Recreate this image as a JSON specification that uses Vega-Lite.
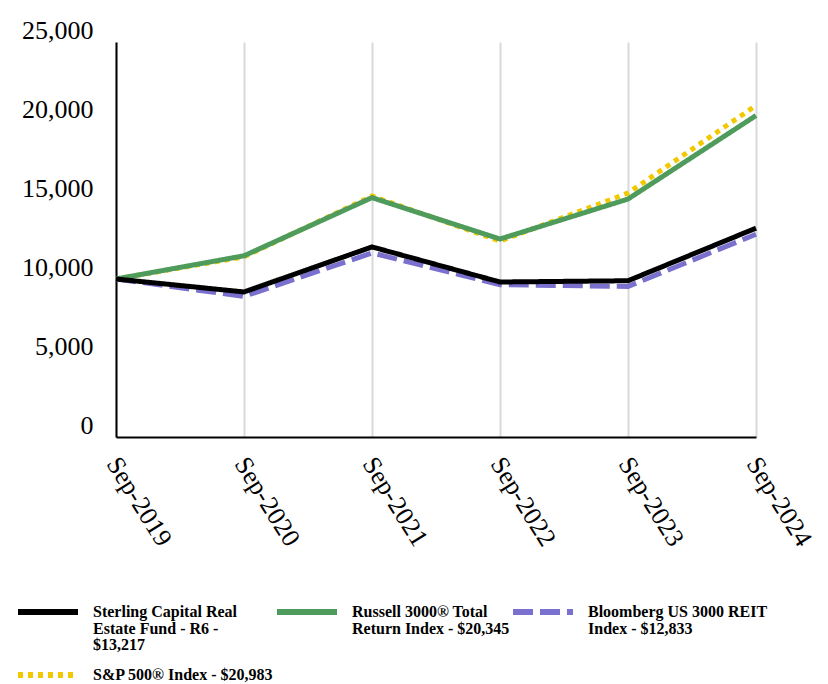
{
  "$schema": "https://vega.github.io/schema/vega-lite/v6.json",
  "width": 640,
  "height": 395,
  "autosize": {"type": "none"},
  "padding": {"left": 116, "top": 42, "right": 72, "bottom": 247},
  "background": "white",
  "config": {"view": {"stroke": null}, "font": "Liberation Serif"},
  "data": {
    "values": [
      {"period": "Sep-2019", "series": "S&P 500® Index - $20,983", "value": 10000},
      {"period": "Sep-2020", "series": "S&P 500® Index - $20,983", "value": 11400},
      {"period": "Sep-2021", "series": "S&P 500® Index - $20,983", "value": 15250},
      {"period": "Sep-2022", "series": "S&P 500® Index - $20,983", "value": 12400},
      {"period": "Sep-2023", "series": "S&P 500® Index - $20,983", "value": 15440},
      {"period": "Sep-2024", "series": "S&P 500® Index - $20,983", "value": 20983},
      {"period": "Sep-2019", "series": "Russell 3000® Total Return Index - $20,345", "value": 10000},
      {"period": "Sep-2020", "series": "Russell 3000® Total Return Index - $20,345", "value": 11470},
      {"period": "Sep-2021", "series": "Russell 3000® Total Return Index - $20,345", "value": 15150},
      {"period": "Sep-2022", "series": "Russell 3000® Total Return Index - $20,345", "value": 12530},
      {"period": "Sep-2023", "series": "Russell 3000® Total Return Index - $20,345", "value": 15060},
      {"period": "Sep-2024", "series": "Russell 3000® Total Return Index - $20,345", "value": 20345},
      {"period": "Sep-2019", "series": "Bloomberg US 3000 REIT Index - $12,833", "value": 10000},
      {"period": "Sep-2020", "series": "Bloomberg US 3000 REIT Index - $12,833", "value": 8900},
      {"period": "Sep-2021", "series": "Bloomberg US 3000 REIT Index - $12,833", "value": 11650},
      {"period": "Sep-2022", "series": "Bloomberg US 3000 REIT Index - $12,833", "value": 9640},
      {"period": "Sep-2023", "series": "Bloomberg US 3000 REIT Index - $12,833", "value": 9530},
      {"period": "Sep-2024", "series": "Bloomberg US 3000 REIT Index - $12,833", "value": 12833},
      {"period": "Sep-2019", "series": "Sterling Capital Real Estate Fund - R6 - $13,217", "value": 10000},
      {"period": "Sep-2020", "series": "Sterling Capital Real Estate Fund - R6 - $13,217", "value": 9180},
      {"period": "Sep-2021", "series": "Sterling Capital Real Estate Fund - R6 - $13,217", "value": 12030},
      {"period": "Sep-2022", "series": "Sterling Capital Real Estate Fund - R6 - $13,217", "value": 9810},
      {"period": "Sep-2023", "series": "Sterling Capital Real Estate Fund - R6 - $13,217", "value": 9890},
      {"period": "Sep-2024", "series": "Sterling Capital Real Estate Fund - R6 - $13,217", "value": 13217}
    ]
  },
  "mark": {"type": "line", "strokeWidth": 5, "strokeCap": "butt", "strokeJoin": "miter"},
  "encoding": {
    "x": {
      "field": "period",
      "type": "ordinal",
      "sort": null,
      "scale": {"type": "point", "padding": 0},
      "axis": {
        "title": null,
        "labelAngle": 58,
        "labelAlign": "left",
        "labelBaseline": "middle",
        "labelFont": "Liberation Serif",
        "labelFontSize": 26,
        "labelColor": "black",
        "labelPadding": 22,
        "labelOffset": -4,
        "ticks": false,
        "domainColor": "black",
        "domainWidth": 2,
        "grid": true,
        "gridColor": "#d9d9d9",
        "gridWidth": 2
      }
    },
    "y": {
      "field": "value",
      "type": "quantitative",
      "scale": {"domain": [0, 25000], "nice": false},
      "axis": {
        "title": null,
        "values": [0, 5000, 10000, 15000, 20000, 25000],
        "format": ",.0f",
        "labelFont": "Liberation Serif",
        "labelFontSize": 26,
        "labelColor": "black",
        "labelBaseline": "alphabetic",
        "labelOffset": -4,
        "labelPadding": 23,
        "ticks": false,
        "grid": false,
        "domainColor": "black",
        "domainWidth": 2
      }
    },
    "color": {
      "field": "series",
      "type": "nominal",
      "sort": ["Sterling Capital Real Estate Fund - R6 - $13,217", "Russell 3000® Total Return Index - $20,345", "Bloomberg US 3000 REIT Index - $12,833", "S&P 500® Index - $20,983"],
      "scale": {
        "domain": ["Sterling Capital Real Estate Fund - R6 - $13,217", "Russell 3000® Total Return Index - $20,345", "Bloomberg US 3000 REIT Index - $12,833", "S&P 500® Index - $20,983"],
        "range": ["#000000", "#4E9B5C", "#7A70CE", "#F2C800"]
      },
      "legend": {
        "title": null,
        "orient": "none",
        "direction": "horizontal",
        "legendX": -101,
        "legendY": 562,
        "columns": 3,
        "gridAlign": "each",
        "clipHeight": 16,
        "padding": 0,
        "columnPadding": -8,
        "rowPadding": 14,
        "symbolType": "stroke",
        "symbolSize": 3600,
        "symbolStrokeWidth": 6,
        "labelFont": "Liberation Serif",
        "labelFontWeight": "bold",
        "labelFontSize": 16,
        "labelColor": "black",
        "labelLimit": 400,
        "labelOffset": 12,
        "labelBaseline": "top",
        "labelExpr": "datum.label == 'Sterling Capital Real Estate Fund - R6 - $13,217' ? ['Sterling Capital Real', 'Estate Fund - R6 -', '$13,217'] : datum.label == 'Russell 3000® Total Return Index - $20,345' ? ['Russell 3000® Total', 'Return Index - $20,345', ' '] : datum.label == 'Bloomberg US 3000 REIT Index - $12,833' ? ['Bloomberg US 3000 REIT', 'Index - $12,833', ' '] : datum.label",
        "encode": {"labels": {"update": {"dy": {"value": -8}, "lineHeight": {"value": 16.5}}}}
      }
    },
    "strokeDash": {
      "field": "series",
      "type": "nominal",
      "sort": ["Sterling Capital Real Estate Fund - R6 - $13,217", "Russell 3000® Total Return Index - $20,345", "Bloomberg US 3000 REIT Index - $12,833", "S&P 500® Index - $20,983"],
      "scale": {
        "domain": ["Sterling Capital Real Estate Fund - R6 - $13,217", "Russell 3000® Total Return Index - $20,345", "Bloomberg US 3000 REIT Index - $12,833", "S&P 500® Index - $20,983"],
        "range": [[1, 0], [1, 0], [20, 7], [5, 5]]
      },
      "legend": {
        "title": null,
        "orient": "none",
        "direction": "horizontal",
        "legendX": -101,
        "legendY": 562,
        "columns": 3,
        "gridAlign": "each",
        "clipHeight": 16,
        "padding": 0,
        "columnPadding": -8,
        "rowPadding": 14,
        "symbolType": "stroke",
        "symbolSize": 3600,
        "symbolStrokeWidth": 6,
        "labelFont": "Liberation Serif",
        "labelFontWeight": "bold",
        "labelFontSize": 16,
        "labelColor": "black",
        "labelLimit": 400,
        "labelOffset": 12,
        "labelBaseline": "top",
        "labelExpr": "datum.label == 'Sterling Capital Real Estate Fund - R6 - $13,217' ? ['Sterling Capital Real', 'Estate Fund - R6 -', '$13,217'] : datum.label == 'Russell 3000® Total Return Index - $20,345' ? ['Russell 3000® Total', 'Return Index - $20,345', ' '] : datum.label == 'Bloomberg US 3000 REIT Index - $12,833' ? ['Bloomberg US 3000 REIT', 'Index - $12,833', ' '] : datum.label",
        "encode": {"labels": {"update": {"dy": {"value": -8}, "lineHeight": {"value": 16.5}}}}
      }
    }
  }
}
